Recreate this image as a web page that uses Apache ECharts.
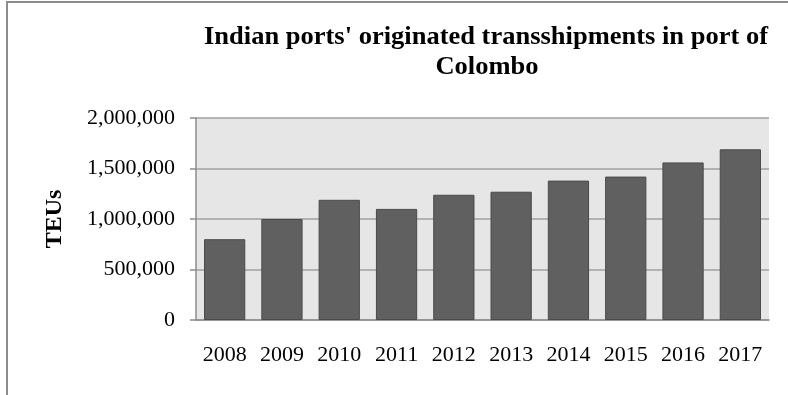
<!DOCTYPE html>
<html>
<head>
<meta charset="utf-8">
<script src="https://cdn.jsdelivr.net/npm/echarts@6/dist/echarts.min.js"></script>
<style>
  html, body { margin: 0; padding: 0; background: #ffffff; }
  #chart { width: 788px; height: 395px; }
</style>
</head>
<body>
<div id="chart"></div>
<script>
// Transshipment volumes (TEUs) by year
const years = ['2008', '2009', '2010', '2011', '2012', '2013', '2014', '2015', '2016', '2017'];
const teus = [800000, 1000000, 1190000, 1100000, 1240000, 1270000, 1380000, 1420000, 1560000, 1690000];
const yTicks = [0, 500000, 1000000, 1500000, 2000000];
const titleLines = ["Indian ports' originated transshipments in port of", 'Colombo'];

const serif = '"Liberation Serif", "Times New Roman", serif';
const fmt = v => v.toLocaleString('en-US');

const chart = echarts.init(document.getElementById('chart'), null, { renderer: 'canvas' });

chart.setOption({
  animation: false,
  backgroundColor: '#ffffff',
  grid: { left: 196, right: 19, top: 118, bottom: 75, show: true, backgroundColor: '#e6e6e6', borderWidth: 0 },
  graphic: [
    // outer chart frame
    { type: 'rect', shape: { x: 7, y: 2, width: 800, height: 420 }, style: { fill: 'none', stroke: '#8c8c8c', lineWidth: 2 }, silent: true },
    // two-line title
    {
      type: 'text', x: 486, y: 50, scaleX: 1.06, scaleY: 1,
      style: { text: titleLines[0], font: 'bold 25px ' + serif, fill: '#000', textAlign: 'center', textVerticalAlign: 'bottom' }
    },
    {
      type: 'text', x: 487, y: 80, scaleX: 1.06, scaleY: 1,
      style: { text: titleLines[1], font: 'bold 25px ' + serif, fill: '#000', textAlign: 'center', textVerticalAlign: 'bottom' }
    }
  ],
  xAxis: {
    type: 'category',
    data: years,
    axisLine: { show: true, lineStyle: { color: '#8c8c8c', width: 1.5 } },
    axisTick: { show: false },
    axisLabel: { color: '#000', fontFamily: serif, fontSize: 22, margin: 24 }
  },
  yAxis: {
    type: 'value',
    min: yTicks[0],
    max: yTicks[yTicks.length - 1],
    interval: yTicks[1] - yTicks[0],
    name: 'TEUs',
    nameLocation: 'middle',
    nameRotate: 90,
    nameGap: 129,
    nameTextStyle: { color: '#000', fontFamily: serif, fontSize: 24, fontWeight: 'bold' },
    axisLine: { show: true, lineStyle: { color: '#8c8c8c', width: 1.5 } },
    axisTick: { show: true, length: 6, lineStyle: { color: '#8c8c8c', width: 1.5 } },
    axisLabel: { color: '#000', fontFamily: serif, fontSize: 22, margin: 21, formatter: v => fmt(v) },
    splitLine: { show: true, lineStyle: { color: '#a0a0a0', width: 1.5 } }
  },
  series: [{
    type: 'bar',
    data: teus,
    barCategoryGap: '28%',
    itemStyle: { color: '#606060', borderColor: '#4a4a4a', borderWidth: 1 }
  }]
});
</script>
</body>
</html>
